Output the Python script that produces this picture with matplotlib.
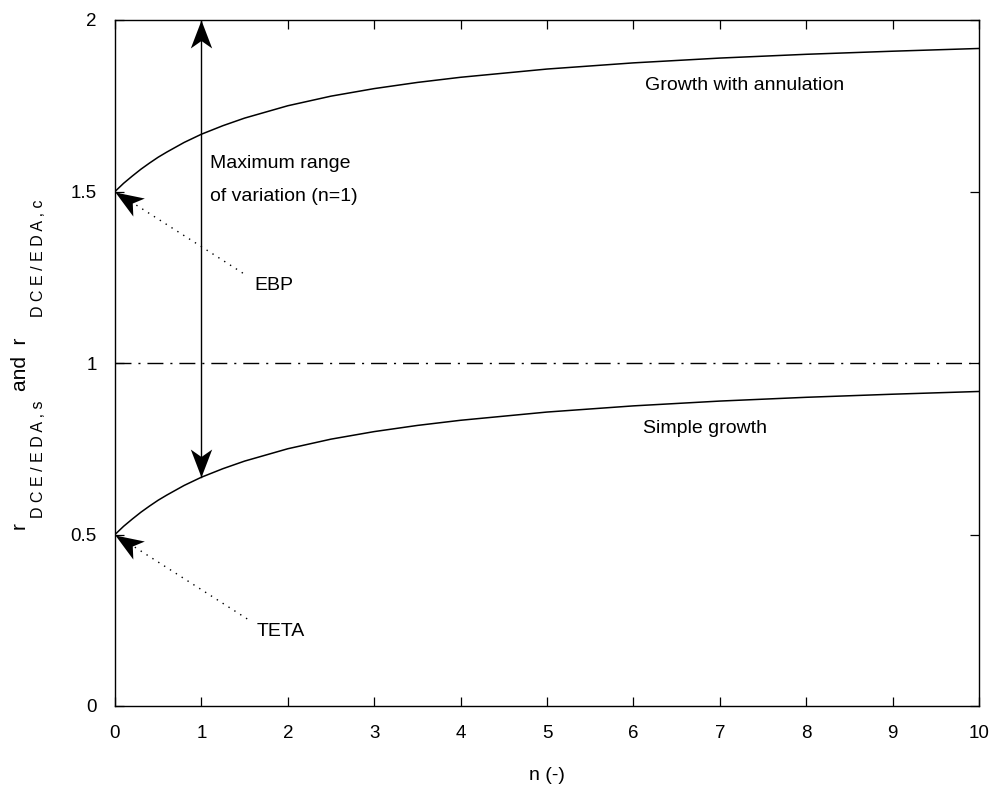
import numpy as np
import matplotlib
matplotlib.use("Agg")
import matplotlib.pyplot as plt
from matplotlib.path import Path
from matplotlib.markers import MarkerStyle
from matplotlib.transforms import Affine2D

plt.rcParams['font.family'] = ['Liberation Sans', 'DejaVu Sans']

# ---- data ----
n_values = [0, 0.05, 0.1, 0.2, 0.3, 0.4, 0.5, 0.6, 0.8, 1, 1.25, 1.5, 2, 2.5,
            3, 3.5, 4, 5, 6, 7, 8, 9, 10]
simple_growth = [0.5, 0.512, 0.524, 0.545, 0.565, 0.583, 0.6, 0.615, 0.643,
                 0.667, 0.692, 0.714, 0.75, 0.778, 0.8, 0.818, 0.833, 0.857,
                 0.875, 0.889, 0.9, 0.909, 0.917]
growth_annulation = [1.5, 1.512, 1.524, 1.545, 1.565, 1.583, 1.6, 1.615,
                     1.643, 1.667, 1.692, 1.714, 1.75, 1.778, 1.8, 1.818,
                     1.833, 1.857, 1.875, 1.889, 1.9, 1.909, 1.917]
reference_level = 1.0
range_n = 1
range_top = 2.0
range_bottom = 0.667
x_ticks = [0, 1, 2, 3, 4, 5, 6, 7, 8, 9, 10]
y_ticks = [0, 0.5, 1, 1.5, 2]
y_tick_labels = ['0', '0.5', '1', '1.5', '2']

W, H = 992, 792
fig = plt.figure(figsize=(W / 100, H / 100), dpi=100)
ax = fig.add_axes([115 / W, 1 - 706 / H, 864 / W, 686 / H])
ax.set_xlim(0, 10)
ax.set_ylim(0, 2)

lw = 1.1
ax.plot(n_values, growth_annulation, color='black', lw=lw)
ax.plot(n_values, simple_growth, color='black', lw=lw)
ax.axhline(reference_level, color='black', lw=1.0, dashes=(11.5, 5, 1.5, 5))

# double arrow
ax.plot([range_n, range_n], [range_bottom, range_top], color='black', lw=1.0)

# arrow head marker (tip at origin, pointing to +x)
head_path = Path([(0, 0), (-28, 10.7), (-20.5, 0), (-28, -10.7), (0, 0)],
                 [Path.MOVETO, Path.LINETO, Path.LINETO, Path.LINETO, Path.CLOSEPOLY])
head_ms = 40.3


def head(tip, tail):
    p1 = ax.transData.transform(tip)
    p0 = ax.transData.transform(tail)
    ang = np.degrees(np.arctan2(p1[1] - p0[1], p1[0] - p0[0]))
    m = MarkerStyle(head_path, transform=Affine2D().rotate_deg(ang))
    ax.plot([tip[0]], [tip[1]], marker=m, markersize=head_ms, color='black',
            markeredgewidth=0, clip_on=False, zorder=5)


head((range_n, range_top), (range_n, range_bottom))
head((range_n, range_bottom), (range_n, range_top))

# EBP / TETA annotations
ebp_tip, ebp_tail = (0, 1.5), (1.48, 1.262)
teta_tip, teta_tail = (0, 0.5), (1.53, 0.254)
for tip, tail in [(ebp_tip, ebp_tail), (teta_tip, teta_tail)]:
    ax.plot([tail[0], tip[0]], [tail[1], tip[1]], color='black', lw=1.0,
            linestyle=(0, (1, 4)))
    head(tip, tail)

fs = 14
ax.text(6.13, 1.81, 'Growth with annulation', fontsize=fs, va='center', ha='left')
ax.text(6.11, 0.81, 'Simple growth', fontsize=fs, va='center', ha='left')
ax.text(1.10, 1.583, 'Maximum range', fontsize=fs, va='center', ha='left')
ax.text(1.10, 1.484, 'of variation (n=1)', fontsize=fs, va='center', ha='left')
ax.text(1.61, 1.227, 'EBP', fontsize=fs, va='center', ha='left')
ax.text(1.64, 0.216, 'TETA', fontsize=fs, va='center', ha='left')

ax.set_xticks(x_ticks)
ax.set_yticks(y_ticks)
ax.set_yticklabels(y_tick_labels)
ax.tick_params(direction='in', length=6.5, width=0.9, top=True, right=True,
               labelsize=13.5)
ax.tick_params(axis='x', pad=14)
ax.tick_params(axis='y', pad=13)
for s in ax.spines.values():
    s.set_linewidth(1.0)

# axis labels
fig.text(547 / W, 1 - 775 / H, 'n (-)', fontsize=14, ha='center', va='center')


def ytxt(x, y, s, size):
    fig.text(x / W, 1 - y / H, s, fontsize=size, rotation=90,
             rotation_mode='anchor', ha='left', va='baseline')


ytxt(25, 529, 'r', 15)
ytxt(43, 518, 'D C E / E D A , s', 11.5)
ytxt(26, 391, 'and  r', 15)
ytxt(43, 317, 'D C E / E D A , c', 11.5)

fig.savefig('out.png', dpi=100)
